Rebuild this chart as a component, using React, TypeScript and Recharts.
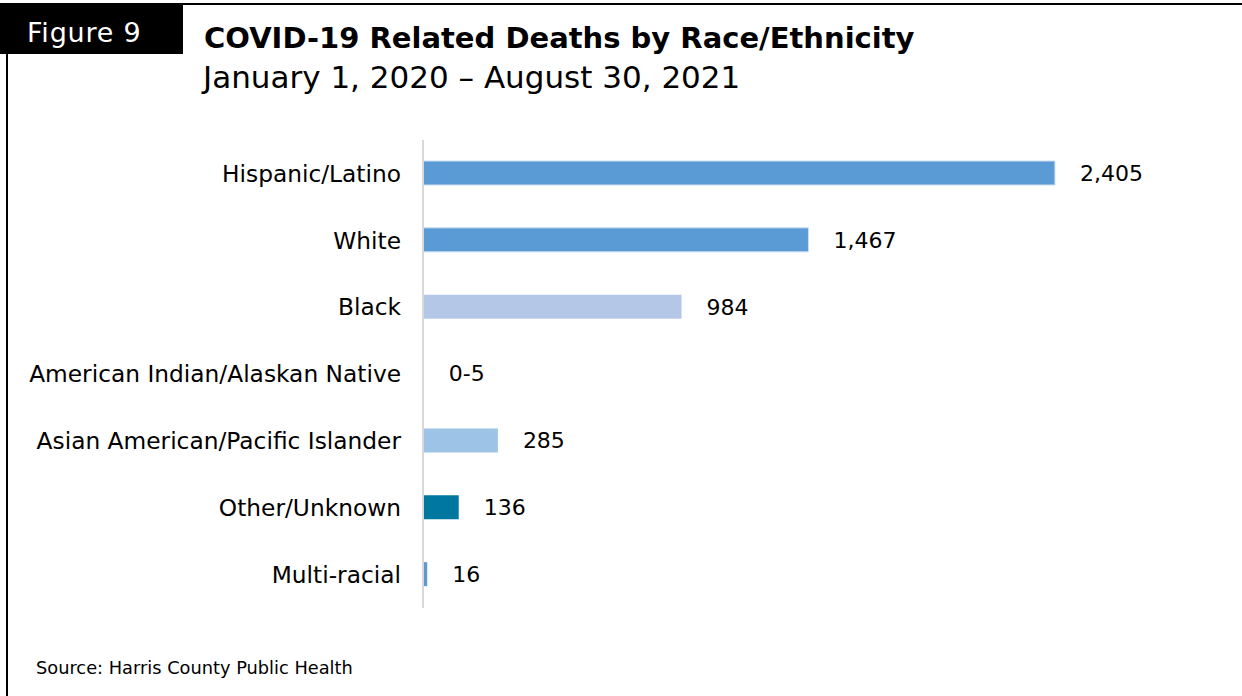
import { BarChart, Bar, Cell, LabelList, XAxis, YAxis } from "recharts";

const categories = [
    "Hispanic/Latino",
    "White",
    "Black",
    "American Indian/Alaskan Native",
    "Asian American/Pacific Islander",
    "Other/Unknown",
    "Multi-racial",
];
// AI/AN is reported as "0-5", drawn as a sliver
const deaths = [2405, 1467, 984, 3, 285, 136, 16];
const valueLabels = ["2,405", "1,467", "984", "0-5", "285", "136", "16"];
const barColors = ["#5b9bd5", "#5b9bd5", "#b4c7e7", "#b4c7e7", "#9dc3e6", "#00779f", "#5b9bd5"];
const barStrokes = ["#c9def2", "#c9def2", "none", "none", "none", "none", "none"];

const data = categories.map((name, i) => ({ name, deaths: deaths[i], label: valueLabels[i] }));

const FONT = '"DejaVu Sans", sans-serif';

const App = () => <div style={{ position: 'absolute', left: 0, top: 0, width: 1242, height: 696, background: '#fff', overflow: 'hidden', fontFamily: FONT }}>
    <style>{`html, body { margin: 0; overflow: hidden; }`}</style>
    {/* frame + header */}
    <div style={{ position: 'absolute', left: 0, top: 3, width: 1242, height: 2, background: '#000' }} />
    <div style={{ position: 'absolute', left: 6, top: 3, width: 2, height: 693, background: '#000' }} />
    <div style={{ position: 'absolute', left: 0, top: 3, width: 183, height: 51, background: '#000' }} />
    <svg width={1242} height={696} style={{ position: 'absolute', left: 0, top: 0 }}>
        <text x={27} y={42} fill="#fff" fontSize={27} letterSpacing={0.8} fontFamily={FONT}>Figure 9</text>
        <text x={204} y={48} fill="#000" fontSize={29} fontWeight="bold" fontFamily={FONT}>COVID-19 Related Deaths by Race/Ethnicity</text>
        <text x={203} y={88} fill="#000" fontSize={31} fontFamily={FONT}>January 1, 2020 – August 30, 2021</text>
        <text x={36} y={674} fill="#000" fontSize={17.8} fontFamily={FONT}>Source: Harris County Public Health</text>
    </svg>
    <div style={{ position: 'absolute', left: 0, top: 0 }}>
        <BarChart
            width={1200}
            height={696}
            data={data}
            layout="vertical"
            margin={{ top: 140, right: 15, bottom: 88, left: 0 }}
            style={{ outline: 'none' }}
        >
            <XAxis type="number" domain={[0, 2900]} hide />
            <YAxis
                type="category"
                dataKey="name"
                width={423}
                tickLine={false}
                tickSize={0}
                tickMargin={22}
                axisLine={{ stroke: '#d9d9d9', strokeWidth: 2 }}
                tick={{ fill: '#000', fontSize: 23.3, fontFamily: FONT }}
                interval={0}
            />
            <Bar dataKey="deaths" barSize={24} isAnimationActive={false}>
                {data.map((d, i) => <Cell key={d.name} fill={barColors[i]} stroke={barStrokes[i]} strokeWidth={1} />)}
                <LabelList dataKey="label" position="right" offset={25} fill="#000" fontSize={22} fontFamily={FONT} />
            </Bar>
        </BarChart>
    </div>
</div>

export default App
